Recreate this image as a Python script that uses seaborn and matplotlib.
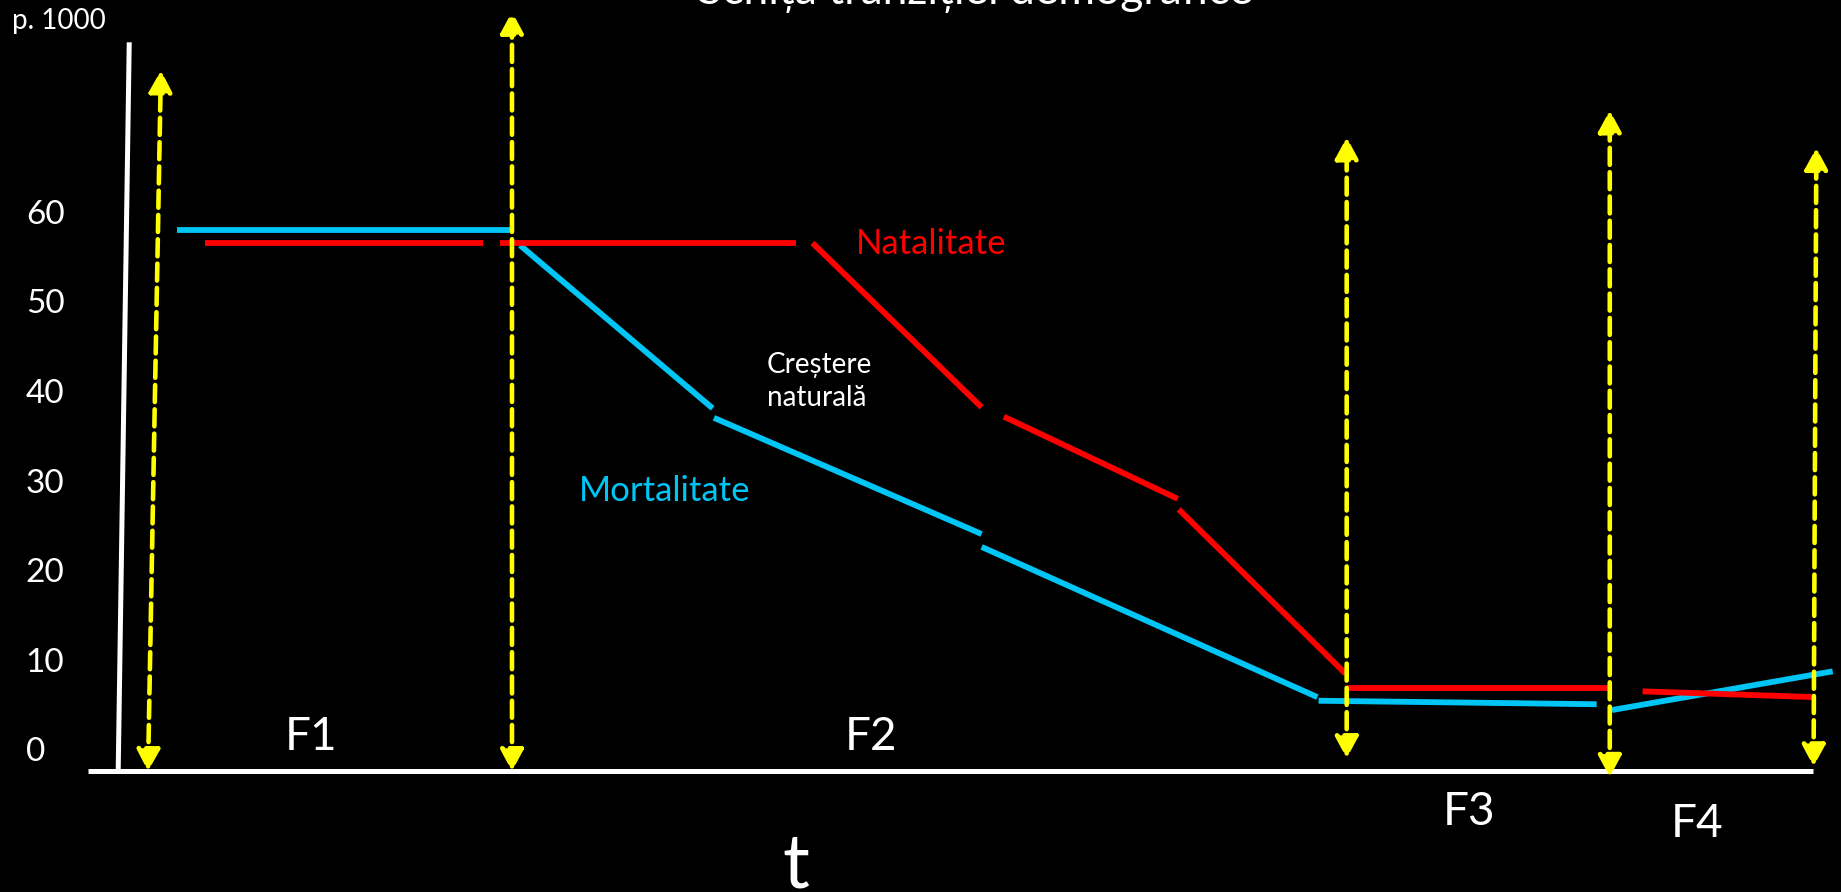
import pandas as pd
import seaborn as sns
import matplotlib.pyplot as plt

# time axis in arbitrary units (0-100), values in per mille
# mortality (cyan) drawn as separate pieces, like in the original slide
mort_t = [[9.63, 27.81], [28.25, 38.71], [38.78, 53.32], [53.32, 71.56], [71.62, 86.73], [87.56, 99.55]]
mort_v = [[58.3, 58.3], [56.6, 38.4], [37.34, 24.37], [22.93, 6.16], [5.76, 5.37], [4.72, 9.04]]

# natality (red)
nat_t = [[11.16, 26.21], [27.17, 43.24], [44.13, 53.32], [54.53, 63.97], [64.03, 73.09], [73.15, 87.37], [89.22, 98.60]]
nat_v = [[56.86, 56.86], [56.86, 56.86], [56.86, 38.52], [37.47, 28.30], [27.12, 8.78], [7.21, 7.21], [6.81, 6.16]]

# phase limits (yellow double arrows): bottom t, bottom v, top t, top v
arrow_t0 = [8.04, 27.81, 73.15, 87.44, 98.51]
arrow_v0 = [-2.10, -2.10, -0.66, -2.75, -1.57]
arrow_t1 = [8.74, 27.81, 73.15, 87.44, 98.66]
arrow_v1 = [76.12, 82.67, 68.65, 71.66, 67.47]

y_ticks = [60, 50, 40, 30, 20, 10, 0]
phases = ['F1', 'F2', 'F3', 'F4']
phase_t = [16.9, 47.32, 79.78, 92.16]
phase_v = [1.70, 1.70, -6.68, -7.99]

# build long table for seaborn
rows = []
for i in range(len(mort_t)):
    for t, v in zip(mort_t[i], mort_v[i]):
        rows.append({'t': t, 'val': v, 'serie': 'Mortalitate', 'seg': 'm%d' % i})
for i in range(len(nat_t)):
    for t, v in zip(nat_t[i], nat_v[i]):
        rows.append({'t': t, 'val': v, 'serie': 'Natalitate', 'seg': 'n%d' % i})
df = pd.DataFrame(rows)

sns.set_theme(style='dark', rc={'axes.facecolor': 'black', 'figure.facecolor': 'black',
                                'savefig.facecolor': 'black'})
plt.rcParams['font.family'] = ['Lato', 'DejaVu Sans']

CYAN = '#00C5F5'
RED = '#FF0000'
YELLOW = '#FFFF00'

fig = plt.figure(figsize=(18.41, 8.92), dpi=100)
ax = fig.add_axes([0, 0, 1, 1])
ax.set_xlim(0, 100)
ax.set_ylim(-15.59, 83.98)
ax.axis('off')

# white axes drawn by hand (slanted y axis as in the slide)
ax.plot([4.78, 98.47], [-2.10, -2.10], color='white', lw=3.6, solid_capstyle='butt')
ax.plot([6.42, 7.02], [-2.10, 79.26], color='white', lw=3.6, solid_capstyle='butt')

sns.lineplot(data=df, x='t', y='val', hue='serie', units='seg', estimator=None,
             sort=False, palette={'Mortalitate': CYAN, 'Natalitate': RED},
             lw=4.2, legend=False, ax=ax, solid_capstyle='butt')

for t0, v0, t1, v1 in zip(arrow_t0, arrow_v0, arrow_t1, arrow_v1):
    ax.annotate('', xy=(t1, v1), xytext=(t0, v0),
                arrowprops=dict(arrowstyle='<|-|>,head_length=0.65,head_width=0.35',
                                color=YELLOW, lw=3.3, ls='--', mutation_scale=20,
                                shrinkA=0, shrinkB=0))

for y in y_ticks:
    ax.text(1.40, y, str(y), color='white', fontsize=24, ha='left', va='center')
ax.text(0.64, 81.6, 'p. 1000', color='white', fontsize=20, ha='left', va='center')

for name, t, v in zip(phases, phase_t, phase_v):
    ax.text(t, v, name, color='white', fontsize=33, ha='center', va='center')
ax.text(43.24, -12.71, 't', color='white', fontsize=54, ha='center', va='center')

ax.text(50.57, 56.73, 'Natalitate', color=RED, fontsize=25, ha='center', va='center')
ax.text(36.10, 29.22, 'Mortalitate', color=CYAN, fontsize=25, ha='center', va='center')
ax.text(41.65, 41.40, 'Creștere\nnaturală', color='white', fontsize=20, ha='left',
        va='center', linespacing=1.3)

fig.text(0.5296, 1 - 4 / 892, 'Schița tranziției demografice', color='white',
         fontsize=32, ha='center', va='baseline')

fig.savefig('out.png', dpi=100, facecolor='black')
